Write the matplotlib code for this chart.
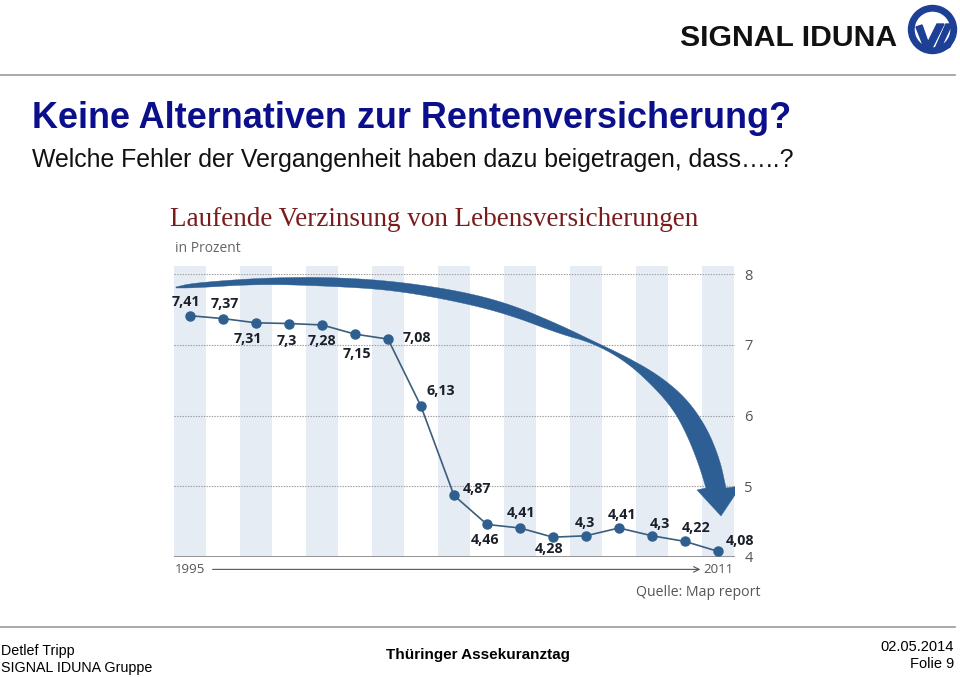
import numpy as np
import matplotlib
matplotlib.use("Agg")
import matplotlib.pyplot as plt
from matplotlib.patches import Polygon, Wedge
from matplotlib.transforms import Affine2D

# data (laufende Verzinsung in %)
years = [1995, 1996, 1997, 1998, 1999, 2000, 2001, 2002, 2003,
         2004, 2005, 2006, 2007, 2008, 2009, 2010, 2011]
rates = [7.41, 7.37, 7.31, 7.3, 7.28, 7.15, 7.08, 6.13, 4.87,
         4.46, 4.41, 4.28, 4.3, 4.41, 4.3, 4.22, 4.08]
y_ticks = [4, 5, 6, 7, 8]

# label offsets in pixels (dx, dy), up is positive
label_off = [(-4, 14), (2, 15), (-8, -16), (-2, -17), (0, -16), (2, -20),
             (29, 1), (20, 15), (23, 6), (-2, -16), (1, 15), (-4, -12),
             (-1, 13), (3, 13), (8, 12), (11, 13), (22, 10)]

W, H = 960, 677
fig = plt.figure(figsize=(W / 100, H / 100), dpi=100)
fig.patch.set_facecolor("white")
px = Affine2D().scale(1 / W, -1 / H).translate(0, 1) + fig.transFigure

def fy(y):
    return 1 - y / H

def smooth(pts, n=3):
    # chaikin corner cutting, keeps end points
    p = np.asarray(pts, float)
    for _ in range(n):
        q = [p[0]]
        for a, b in zip(p[:-1], p[1:]):
            q.append(0.75 * a + 0.25 * b)
            q.append(0.25 * a + 0.75 * b)
        q.append(p[-1])
        p = np.array(q)
    return p

sans = "Liberation Sans"
narrow = ["Liberation Sans Narrow", "Liberation Sans"]

# ---- slide header
fig.text(680 / W, fy(38), "SIGNAL IDUNA", fontsize=21.7, fontweight="bold",
         family=sans, color="#111111", va="center", ha="left")
blue_logo = "#1d3f95"
fig.add_artist(Wedge((932.5, 29.5), 24, 0, 360, width=5.5, transform=px,
                     color=blue_logo))
fig.add_artist(Polygon([(916, 27), (922, 25), (928, 42), (937, 24), (944, 24),
                        (931, 50), (925, 50)], transform=px, color=blue_logo))
fig.add_artist(Polygon([(934, 51), (946, 24), (952, 24), (942, 45), (953, 40),
                        (950, 47), (942, 51)], transform=px, color=blue_logo))
fig.add_artist(plt.Line2D([0, 955 / W], [fy(75), fy(75)], color="#9a9a9a", lw=1.2))

fig.text(32 / W, fy(119), "Keine Alternativen zur Rentenversicherung?",
         fontsize=25.9, fontweight="bold", family=sans, color="#0b0f8c",
         va="center", ha="left")
fig.text(32 / W, fy(160), "Welche Fehler der Vergangenheit haben dazu beigetragen, dass…..?",
         fontsize=17.9, family=sans, color="#111111", va="center", ha="left")

# ---- footer
fig.add_artist(plt.Line2D([0, 955 / W], [fy(627), fy(627)], color="#9a9a9a", lw=1.2))
fig.text(1 / W, fy(651), "Detlef Tripp", fontsize=10.3, family=narrow, va="center")
fig.text(1 / W, fy(668), "SIGNAL IDUNA Gruppe", fontsize=10.3, family=narrow, va="center")
fig.text(478 / W, fy(655), "Thüringer Assekuranztag", fontsize=11, family=narrow,
         fontweight="bold", va="center", ha="center")
fig.text(954 / W, fy(647), "02.05.2014", fontsize=10.5, family=narrow, va="center", ha="right")
fig.text(954 / W, fy(664), "Folie 9", fontsize=10.5, family=narrow, va="center", ha="right")

# ---- chart
ax = fig.add_axes([173.5 / W, (H - 557) / H, 561 / W, 283 / H])
x = np.arange(len(years))
ax.set_xlim(-0.5, len(years) - 0.5)
ax.set_ylim(4, 8)

for i in x[::2]:
    ax.axvspan(i - 0.47, i + 0.47, ymin=0, ymax=1.03, color="#e5ecf4",
               lw=0, zorder=0, clip_on=False)
for v in y_ticks[1:]:
    ax.axhline(v, color="#9a9a9a", lw=0.8, ls=(0, (1.2, 1.2)), zorder=1)
ax.axhline(4, color="#8a8a8a", lw=1.3, zorder=1)

# swoosh arrow
upper = [(176, 287), (193, 283), (260, 278), (327, 277), (393, 281), (460, 291),
         (510, 304), (560, 325), (593, 341), (627, 357), (660, 376), (687, 399),
         (707, 428), (720, 460), (726, 488)]
head = [(741, 486), (721, 516), (697, 490)]
lower = [(706, 488), (699, 465), (688, 437), (675, 412), (657, 390), (627, 362),
         (593, 343), (560, 334), (510, 315), (460, 302), (393, 290), (327, 286),
         (260, 284), (193, 288), (176, 288)]
outline = np.vstack([smooth(upper), head, smooth(lower)])
ax.add_artist(Polygon(outline, closed=True, transform=px,
                      facecolor="#2e5f94", edgecolor="#2e5f94", lw=0.3, zorder=2))

ax.plot(x, rates, color="#3b5d7e", lw=1.2, zorder=3)
ax.plot(x, rates, "o", ms=6.5, color="#2f5f8f", zorder=4)
for xi, r, (dx, dy) in zip(x, rates, label_off):
    ax.annotate(f"{r:g}".replace(".", ","), (xi, r), xytext=(dx, dy),
                textcoords="offset pixels", ha="center", va="center",
                fontsize=10.3, fontweight="bold", family="Open Sans",
                color="#1b1f2a", zorder=5)

ax.yaxis.tick_right()
ax.set_yticks(y_ticks)
ax.tick_params(axis="y", length=0, pad=7, labelsize=10.5, labelcolor="#555555")
for lab in ax.get_yticklabels():
    lab.set_family("Open Sans")
ax.set_xticks([])
for s in ax.spines.values():
    s.set_visible(False)

# time axis arrow
ax.text(0, 3.82, str(years[0]), ha="center", va="center", fontsize=9.5,
        family="Open Sans", color="#555555")
ax.text(x[-1], 3.82, str(years[-1]), ha="center", va="center", fontsize=9.5,
        family="Open Sans", color="#555555")
ax.annotate("", xy=(15.55, 3.825), xytext=(0.6, 3.825), annotation_clip=False,
            arrowprops=dict(arrowstyle="->", color="#555555", lw=0.8))

fig.text(170 / W, fy(219), "Laufende Verzinsung von Lebensversicherungen",
         fontsize=19.5, family="Liberation Serif", color="#7a1c1e", va="center")
fig.text(175 / W, fy(249), "in Prozent", fontsize=10, family="Open Sans",
         color="#666666", va="center")
fig.text(760 / W, fy(593), "Quelle: Map report", fontsize=10.2, family="Open Sans",
         color="#555555", va="center", ha="right")

fig.savefig("out.png", dpi=100)
